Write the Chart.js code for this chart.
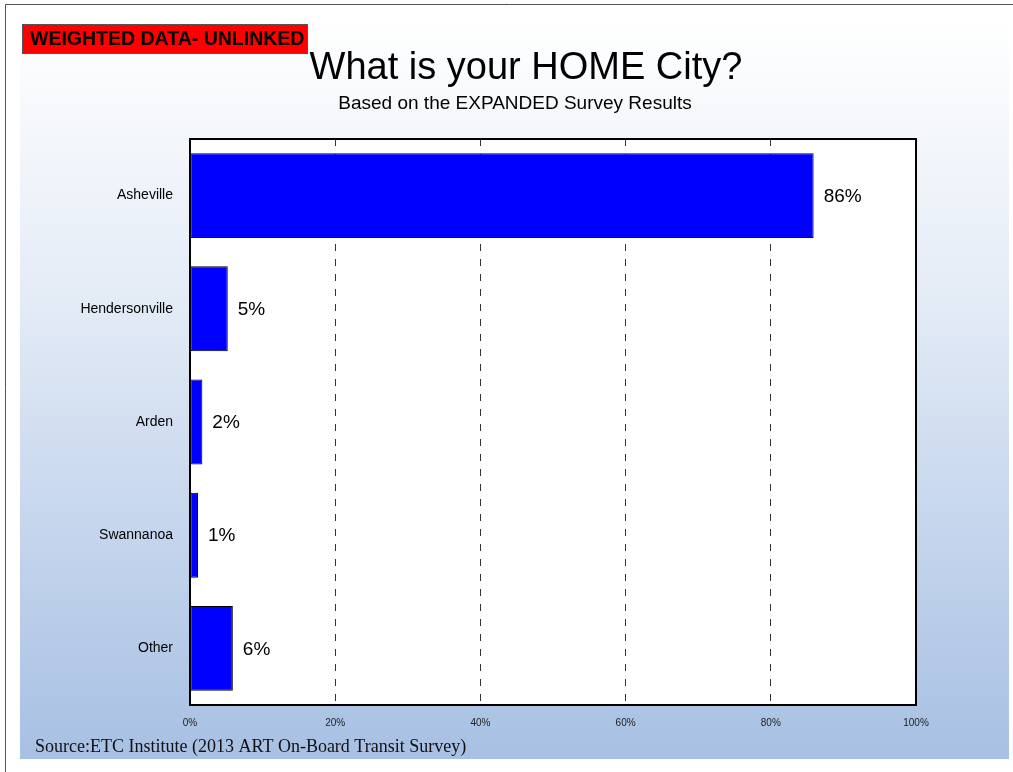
<!DOCTYPE html>
<html>
<head>
<meta charset="utf-8">
<title>What is your HOME City?</title>
<script src="https://cdn.jsdelivr.net/npm/chart.js@4"></script>
<style>
  html, body { margin: 0; padding: 0; background: #fff; }
  #wrap { width: 1013px; height: 772px; position: relative; }
</style>
</head>
<body>
<div id="wrap"><canvas id="cityChart" width="1013" height="772"></canvas></div>
<script>
// Home city shares (percent of weighted responses)
const cities = ['Asheville', 'Hendersonville', 'Arden', 'Swannanoa', 'Other'];
const shares = [85.9, 5.2, 1.7, 1.1, 5.9];
const xTicks = [0, 20, 40, 60, 80, 100];

const titleText = 'What is your HOME City?';
const subtitleText = 'Based on the EXPANDED Survey Results';
const badgeText = 'WEIGHTED DATA- UNLINKED';
const sourceText = 'Source:ETC Institute (2013 ART On-Board Transit Survey)';

const SANS = '"Liberation Sans", Arial, sans-serif';

// slide background, badge, titles and source line
const slideDecor = {
    id: 'slideDecor',
    beforeDraw(chart) {
        const c = chart.ctx;
        const a = chart.chartArea;
        c.save();
        c.fillStyle = '#ffffff';
        c.fillRect(0, 0, chart.width, chart.height);

        const g = c.createLinearGradient(0, 20, 0, 759);
        g.addColorStop(0, '#ffffff');
        g.addColorStop(0.35, '#e6edf7');
        g.addColorStop(1, '#a7c0e3');
        c.fillStyle = g;
        c.fillRect(20, 20, 989, 739);

        c.strokeStyle = '#555';
        c.lineWidth = 1;
        c.beginPath();
        c.moveTo(5.5, chart.height);
        c.lineTo(5.5, 4.5);
        c.lineTo(chart.width, 4.5);
        c.stroke();

        // red badge
        c.fillStyle = '#ff0000';
        c.fillRect(22, 24, 286, 30);
        c.strokeStyle = '#555';
        c.strokeRect(22.5, 24.5, 285, 29);
        c.fillStyle = '#000';
        c.font = 'bold 19.5px ' + SANS;
        c.textBaseline = 'middle';
        c.textAlign = 'left';
        c.fillText(badgeText, 30, 40);

        c.textAlign = 'center';
        c.textBaseline = 'alphabetic';
        c.font = '38px ' + SANS;
        c.fillText(titleText, 526, 79);
        c.font = '19px ' + SANS;
        c.fillText(subtitleText, 515, 109);

        c.textAlign = 'left';
        c.fillStyle = '#111';
        c.font = '18px "Liberation Serif", "Times New Roman", serif';
        c.fillText(sourceText, 35, 752);

        // plot area fill
        c.fillStyle = '#ffffff';
        c.fillRect(a.left, a.top, a.right - a.left, a.bottom - a.top);
        c.restore();
    },
    afterDatasetsDraw(chart) {
        const c = chart.ctx;
        const a = chart.chartArea;
        const meta = chart.getDatasetMeta(0);
        c.save();
        c.fillStyle = '#000';
        c.font = '19px ' + SANS;
        c.textAlign = 'left';
        c.textBaseline = 'middle';
        meta.data.forEach((bar, i) => {
            c.fillText(Math.round(shares[i]) + '%', bar.x + 10, bar.y + 1);
        });
        c.strokeStyle = '#000';
        c.lineWidth = 2;
        c.strokeRect(a.left, a.top, a.right - a.left, a.bottom - a.top);
        c.restore();
    }
};

const ctx = document.getElementById('cityChart').getContext('2d');
const chart = new Chart(ctx, {
    type: 'bar',
    data: {
        labels: cities,
        datasets: [{
            data: shares,
            backgroundColor: '#0000ff',
            borderColor: '#000000',
            borderWidth: 1,
            borderSkipped: false,
            categoryPercentage: 1,
            barPercentage: 0.75
        }]
    },
    options: {
        indexAxis: 'y',
        responsive: false,
        animation: false,
        layout: { padding: { left: 0, top: 139, right: 97, bottom: 0 } },
        plugins: {
            legend: { display: false },
            tooltip: { enabled: false }
        },
        scales: {
            x: {
                min: 0,
                max: 100,
                afterBuildTicks(scale) {
                    scale.ticks = xTicks.map(v => ({ value: v }));
                },
                afterFit(scale) { scale.height = 67; },
                ticks: {
                    padding: 12,
                    color: '#222',
                    font: { family: SANS, size: 10 },
                    callback: v => v + '%'
                },
                grid: {
                    color: c => (c.tick && (c.tick.value === 0 || c.tick.value === 100)) ? 'rgba(0,0,0,0)' : '#333',
                    lineWidth: 1,
                    tickLength: 0,
                    drawTicks: false
                },
                border: { display: false, dash: [7, 8] }
            },
            y: {
                afterFit(scale) { scale.width = 190; },
                ticks: {
                    padding: 17,
                    color: '#000',
                    font: { family: SANS, size: 14 }
                },
                grid: { display: false, drawTicks: false },
                border: { display: false }
            }
        }
    },
    plugins: [slideDecor]
});
</script>
</body>
</html>
